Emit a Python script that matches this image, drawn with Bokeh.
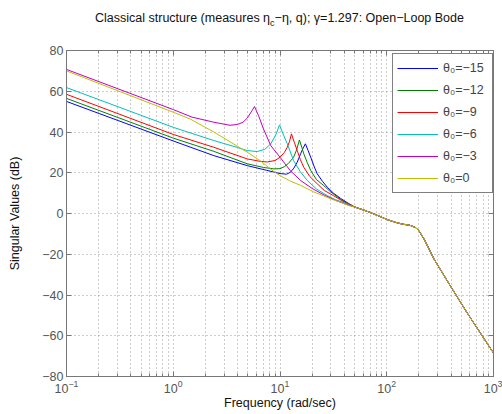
from bokeh.plotting import figure
from bokeh.layouts import column
from bokeh.models import (Range1d, FixedTicker, LinearAxis, LogAxis, Div,
                          Legend, LegendItem, LogTickFormatter)
from bokeh.embed import file_html
from bokeh.resources import INLINE

FONT = "Liberation Sans"

# ---------------- data ----------------
series_labels = ["θ₀=−15", "θ₀=−12", "θ₀=−9", "θ₀=−6", "θ₀=−3", "θ₀=0"]
series_colors = ["#0000ff", "#008000", "#ff0000", "#00bfbf", "#bf00bf", "#bfbf00"]

w_m15 = [0.1, 1, 2.4, 4.93, 7.5, 10, 11.5, 12.5, 13.5, 14.5, 15.6, 16.5, 17.3,
         18.3, 19.4, 20.8, 22.3, 25, 27.7, 32, 37, 44]
db_m15 = [55.0, 35.6, 28.4, 23.5, 21.2, 19.6, 19.3, 20.2, 22.3, 25.2, 29.3, 32.2, 34.2,
          31.0, 27.6, 23.3, 19.5, 15.8, 12.9, 9.8, 7.4, 4.9]

w_m12 = [0.1, 1, 2.4, 4.93, 7, 8.75, 10, 11, 12, 13.4, 14.3, 15.2, 16.0, 16.7,
         18, 19.4, 22, 25.7, 30, 37, 44]
db_m12 = [56.5, 37.0, 30.5, 24.4, 22.6, 21.9, 22.0, 23.0, 24.6, 27.6, 31.2, 36.1, 32.5, 29.3,
          25.0, 21.1, 16.6, 13.7, 10.5, 7.0, 4.7]

w_m9 = [0.1, 1, 2.4, 4.93, 6.5, 7.6, 9, 10, 11, 11.7, 12.3, 12.8, 13.6, 14.5,
        15.5, 16.7, 19, 22.3, 26, 31.6, 38, 44]
db_m9 = [58.5, 38.8, 32.5, 26.8, 25.6, 25.3, 26.0, 27.6, 30.0, 32.5, 35.5, 39.1, 35.0, 30.9,
         26.5, 22.7, 18.2, 14.6, 11.3, 8.8, 6.3, 4.5]

w_m6 = [0.1, 1, 2.4, 4.0, 4.93, 6.1, 7.2, 8.2, 9.2, 9.9, 10.7, 11.7, 13.4,
        15.5, 18, 22, 27.7, 33, 40, 44]
db_m6 = [61.8, 42.3, 35.8, 32.4, 30.9, 30.4, 31.5, 34.2, 39.0, 43.5, 39.0, 34.2, 26.0,
         20.5, 16.2, 12.0, 8.8, 6.8, 5.3, 4.3]

w_m3 = [0.1, 1, 1.5, 2.4, 3.4, 4.0, 4.5, 4.93, 5.48, 5.77, 6.3, 7.0, 8.2, 10,
        12.5, 15.6, 20, 26, 33, 40, 44]
db_m3 = [70.7, 51.0, 47.3, 44.8, 43.3, 43.7, 44.8, 46.8, 50.5, 52.5, 48.0, 41.5, 33.3, 27.6,
         21.0, 16.2, 12.3, 9.0, 6.5, 4.9, 4.1]

w_0 = [0.1, 1, 1.45, 2.4, 4.93, 6.56, 8.75, 10, 12.5, 15.6, 20.7, 28, 36.9, 44]
db_0 = [70.0, 49.7, 46.3, 40.0, 30.1, 25.8, 20.6, 18.6, 15.9, 13.8, 10.6, 7.8, 5.5, 3.9]

# common high-frequency part shared by all six curves
tail_w = [50, 60, 70, 85, 100, 120, 140, 165, 185, 200, 212, 225, 250, 276,
          395, 567, 1000]
tail_db = [3.2, 1.8, 0.5, -1.3, -2.9, -4.3, -5.2, -5.8, -6.8, -8.4, -10.6, -12.8, -17.6, -22.2,
           -35.6, -48.8, -68.5]

series_w = [w_m15, w_m12, w_m9, w_m6, w_m3, w_0]
series_db = [db_m15, db_m12, db_m9, db_m6, db_m3, db_0]

x_major_ticks = [0.1, 1, 10, 100, 1000]
y_major_ticks = [-80, -60, -40, -20, 0, 20, 40, 60, 80]

title_html = ("Classical structure (measures η<sub style='font-size:9px'>c</sub>"
              "−η, q); γ=1.297: Open−Loop Bode")

# ---------------- figure ----------------
TITLE_H = 40
p = figure(width=502, height=414 - TITLE_H, x_axis_type="log",
           x_range=Range1d(0.1, 1000), y_range=Range1d(-80, 80),
           output_backend="svg", toolbar_location=None,
           min_border_left=66, min_border_right=9,
           min_border_top=50 - TITLE_H, min_border_bottom=38)
p.background_fill_color = "white"
p.border_fill_color = "white"
p.outline_line_color = "#777777"
p.outline_line_width = 1

minor_x = [m * 10.0 ** k for k in range(-1, 3) for m in range(2, 10)]
xticker = FixedTicker(ticks=x_major_ticks, minor_ticks=minor_x)
yticker = FixedTicker(ticks=y_major_ticks)

AX = "#777777"
for ax in p.xaxis:
    ax.ticker = xticker
    ax.formatter = LogTickFormatter()
for ax in p.yaxis:
    ax.ticker = yticker

for ax in list(p.xaxis) + list(p.yaxis):
    ax.axis_line_color = AX
    ax.major_tick_line_color = AX
    ax.minor_tick_line_color = AX
    ax.major_tick_in = 5
    ax.major_tick_out = 0
    ax.minor_tick_in = 3
    ax.minor_tick_out = 0
    ax.major_label_text_font = FONT
    ax.major_label_text_font_size = "12.5px"
    ax.major_label_text_color = "#555555"
    ax.axis_label_text_font = FONT
    ax.axis_label_text_font_size = "12.5px"
    ax.axis_label_text_font_style = "normal"
    ax.axis_label_text_color = "#111111"

p.xaxis.major_label_standoff = 3
p.xaxis.axis_label = "Frequency (rad/sec)"
p.xaxis.axis_label_standoff = 0
p.yaxis.major_label_standoff = 3
p.yaxis.minor_tick_line_color = None
p.yaxis.axis_label = "Singular Values (dB)"
p.yaxis.axis_label_standoff = 17

# box ticks on top and right (labels hidden)
right_ax = LinearAxis(ticker=yticker, major_label_text_font_size="1px",
                      major_label_text_color=None,
                      major_label_standoff=0, major_tick_in=5, major_tick_out=0,
                      minor_tick_line_color=None, axis_line_color=AX,
                      major_tick_line_color=AX)
p.add_layout(right_ax, "right")
top_ax = LogAxis(ticker=xticker, major_label_text_font_size="1px",
                 major_label_text_color=None,
                 major_label_standoff=0, major_tick_in=5, major_tick_out=0,
                 minor_tick_in=3, minor_tick_out=0, axis_line_color=AX,
                 major_tick_line_color=AX, minor_tick_line_color=AX)
p.add_layout(top_ax, "above")

# dotted grid
GRID = "#9a9a9a"
p.xgrid.grid_line_color = GRID
p.xgrid.grid_line_dash = "1 3"
p.xgrid.minor_grid_line_color = GRID
p.xgrid.minor_grid_line_dash = "1 3"
p.ygrid.grid_line_color = GRID
p.ygrid.grid_line_dash = "1 3"

# curves
items = []
for lab, col, ws, dbs in zip(series_labels, series_colors, series_w, series_db):
    r = p.line(ws + tail_w, dbs + tail_db, line_color=col, line_width=1)
    items.append(LegendItem(label=lab, renderers=[r]))

legend = Legend(items=items, location=(326, 183), padding=4, spacing=2,
                glyph_width=41, glyph_height=20, label_height=20, label_width=45,
                label_standoff=5, label_text_font=FONT, label_text_font_size="12.5px",
                border_line_color="black", border_line_width=1,
                background_fill_color="white", background_fill_alpha=1.0, margin=0)
p.add_layout(legend)

title = Div(text=title_html, width=427, height=TITLE_H, margin=(0, 0, 0, 66),
            styles={"text-align": "center", "font-family": FONT,
                    "font-size": "12.5px", "color": "#111111",
                    "padding-top": "10px", "box-sizing": "border-box"})

layout = column(title, p, spacing=0)
open("out.html", "w").write(file_html(layout, INLINE))
